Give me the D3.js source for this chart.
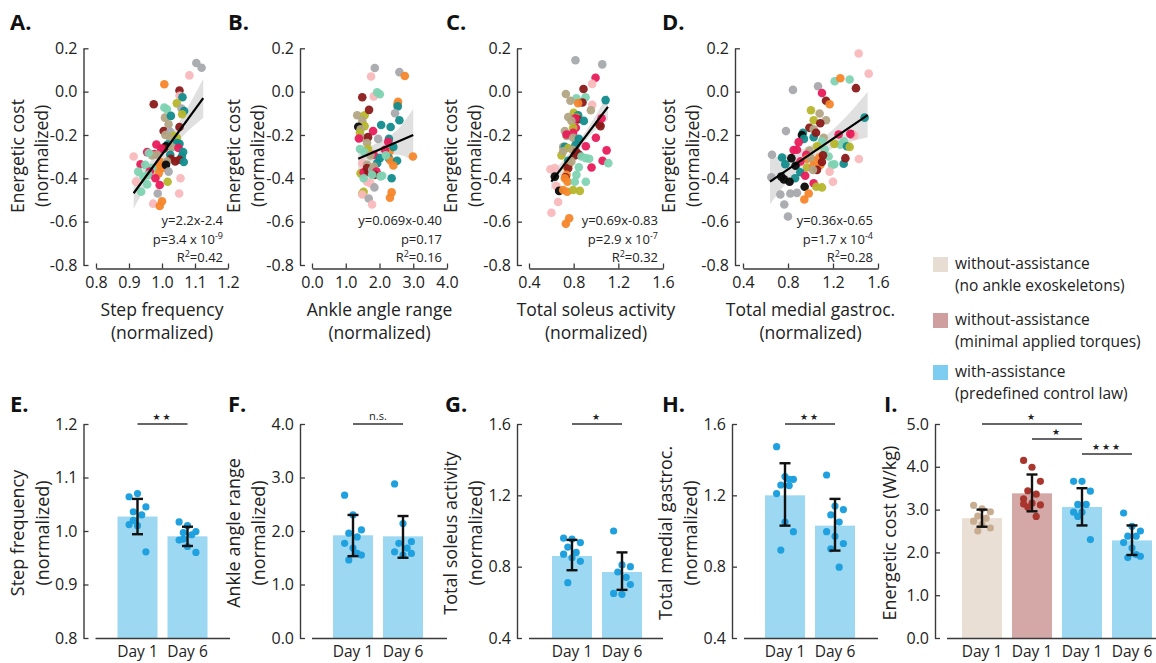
<!DOCTYPE html>
<html><head><meta charset="utf-8">
<script src="https://cdn.jsdelivr.net/npm/d3@7"></script>
<style>
body{margin:0;background:#fff;}
svg{font-family:"Open Sans","Noto Sans",sans-serif;}
</style></head><body>
<svg id="c" width="1156" height="663"></svg>
<script>
// ---------- DATA ----------
const subjectColors = {g:"#a8a9ad", p:"#f9b8bc", r:"#8b1a1a", o:"#f5862b", t:"#128c8c", m:"#80d3b2", y:"#b6b62c", k:"#b2a585", c:"#e81c5b", b:"#0a0a0a"};
const energyTicks = [0.2, 0.0, -0.2, -0.4, -0.6, -0.8];

// A: step frequency vs energetic cost
const ptsA = [[1.104,0.132,"g"],[1.12,0.11,"g"],[1.083,0.075,"p"],[1.007,0.034,"o"],[1.053,0.005,"r"],[1.053,-0.019,"p"],[1.062,-0.026,"t"],[0.975,-0.058,"r"],[1.045,-0.054,"y"],[1.007,-0.073,"m"],[1.015,-0.081,"m"],[1.059,-0.078,"g"],[1.067,-0.089,"t"],[1.009,-0.12,"k"],[1.027,-0.112,"t"],[1.061,-0.104,"y"],[1.02,-0.151,"k"],[1.053,-0.163,"r"],[1.005,-0.182,"r"],[1.025,-0.185,"g"],[1.01,-0.2,"k"],[1.035,-0.205,"y"],[1.045,-0.213,"y"],[1.025,-0.216,"k"],[1.045,-0.237,"t"],[1.053,-0.241,"t"],[0.983,-0.244,"c"],[1.017,-0.244,"t"],[1.012,-0.252,"b"],[1.005,-0.263,"r"],[1.03,-0.257,"k"],[1.05,-0.26,"c"],[0.997,-0.263,"c"],[1.064,-0.279,"t"],[0.955,-0.279,"c"],[0.977,-0.288,"c"],[0.97,-0.294,"k"],[0.985,-0.291,"k"],[1.025,-0.291,"t"],[0.914,-0.299,"p"],[1.06,-0.299,"t"],[1.027,-0.31,"r"],[1.053,-0.314,"r"],[1.04,-0.322,"r"],[0.935,-0.335,"c"],[0.995,-0.325,"o"],[1.005,-0.338,"o"],[0.987,-0.346,"o"],[1.0,-0.353,"o"],[0.949,-0.338,"m"],[0.97,-0.353,"m"],[1.015,-0.322,"k"],[1.012,-0.338,"b"],[0.963,-0.369,"c"],[0.928,-0.369,"m"],[0.99,-0.377,"o"],[1.02,-0.369,"g"],[0.944,-0.392,"m"],[0.959,-0.384,"m"],[0.98,-0.4,"c"],[1.056,-0.4,"p"],[0.921,-0.416,"p"],[1.017,-0.416,"y"],[0.955,-0.428,"m"],[0.993,-0.431,"c"],[0.937,-0.462,"m"],[0.987,-0.47,"g"],[1.052,-0.47,"p"],[0.973,-0.517,"p"],[1.0,-0.506,"o"],[0.993,-0.528,"o"],[0.96,-0.283,"m"],[1.066,-0.325,"t"]];
const fitA = [[0.914,-0.469],[1.125,-0.03]];
const bandA = [[0.914,-0.54,-0.40],[0.96,-0.415,-0.33],[1.0,-0.32,-0.26],[1.06,-0.21,-0.12],[1.125,-0.12,0.06]];

// B: ankle angle range
const ptsB = [[1.86,0.109,"g"],[2.59,0.09,"g"],[2.75,0.072,"o"],[1.75,0.07,"p"],[1.83,-0.022,"p"],[1.93,-0.003,"m"],[2.01,-0.012,"m"],[1.49,-0.026,"r"],[2.55,-0.047,"o"],[2.53,-0.058,"o"],[2.54,-0.068,"t"],[1.34,-0.109,"k"],[1.56,-0.109,"y"],[1.69,-0.084,"r"],[2.46,-0.1,"g"],[2.59,-0.132,"t"],[1.49,-0.135,"k"],[1.56,-0.159,"y"],[1.37,-0.162,"b"],[2.05,-0.154,"t"],[2.33,-0.163,"t"],[1.44,-0.174,"k"],[1.81,-0.182,"c"],[1.42,-0.19,"y"],[1.53,-0.213,"k"],[1.39,-0.216,"c"],[1.66,-0.21,"r"],[1.96,-0.218,"g"],[2.28,-0.218,"t"],[2.26,-0.232,"c"],[1.63,-0.237,"k"],[1.42,-0.265,"m"],[1.66,-0.265,"y"],[2.3,-0.275,"o"],[2.41,-0.255,"t"],[2.16,-0.268,"c"],[1.55,-0.279,"m"],[1.83,-0.291,"c"],[2.01,-0.307,"t"],[2.28,-0.307,"t"],[2.33,-0.319,"o"],[2.99,-0.299,"o"],[2.19,-0.294,"m"],[1.73,-0.294,"k"],[1.49,-0.33,"p"],[2.52,-0.319,"t"],[2.41,-0.341,"o"],[1.93,-0.33,"t"],[1.63,-0.338,"k"],[1.44,-0.377,"y"],[1.53,-0.372,"c"],[1.68,-0.372,"r"],[1.63,-0.353,"r"],[1.78,-0.361,"g"],[1.83,-0.346,"k"],[1.91,-0.369,"c"],[1.85,-0.384,"r"],[1.78,-0.384,"m"],[2.08,-0.388,"m"],[2.03,-0.391,"m"],[2.36,-0.4,"t"],[1.63,-0.416,"p"],[1.53,-0.4,"m"],[1.73,-0.423,"p"],[1.85,-0.442,"g"],[1.53,-0.462,"y"],[1.49,-0.47,"y"],[1.49,-0.475,"p"],[1.68,-0.493,"g"],[2.36,-0.465,"o"],[2.31,-0.49,"o"],[1.78,-0.521,"p"]];
const fitB = [[1.37,-0.31],[3.0,-0.20]];
const bandB = [[1.37,-0.37,-0.25],[1.7,-0.33,-0.25],[2.0,-0.305,-0.23],[2.5,-0.29,-0.18],[3.0,-0.32,-0.08]];

// C: total soleus activity
const ptsC = [[0.816,0.145,"g"],[1.056,0.126,"g"],[0.996,0.064,"c"],[0.966,0.036,"p"],[0.888,0.012,"r"],[0.73,-0.011,"k"],[0.825,-0.031,"m"],[0.906,-0.026,"m"],[0.879,-0.05,"r"],[0.84,-0.053,"o"],[0.966,-0.061,"p"],[1.086,-0.039,"t"],[0.771,-0.042,"k"],[0.954,-0.086,"k"],[0.801,-0.098,"y"],[0.84,-0.109,"t"],[0.751,-0.117,"k"],[0.825,-0.12,"y"],[0.834,-0.128,"r"],[0.816,-0.123,"c"],[0.78,-0.135,"k"],[0.891,-0.135,"t"],[0.819,-0.167,"c"],[0.795,-0.167,"y"],[1.029,-0.151,"r"],[1.041,-0.159,"r"],[1.05,-0.123,"c"],[0.721,-0.182,"k"],[0.795,-0.19,"c"],[0.736,-0.205,"k"],[0.736,-0.198,"c"],[0.795,-0.213,"k"],[0.999,-0.213,"c"],[0.846,-0.218,"t"],[0.706,-0.255,"k"],[0.721,-0.255,"t"],[0.751,-0.26,"y"],[0.816,-0.247,"t"],[0.789,-0.268,"k"],[0.909,-0.252,"c"],[0.691,-0.294,"y"],[0.825,-0.279,"r"],[0.849,-0.291,"r"],[0.81,-0.294,"r"],[0.87,-0.299,"m"],[0.909,-0.307,"m"],[0.706,-0.275,"k"],[1.095,-0.271,"c"],[0.939,-0.31,"m"],[1.059,-0.319,"c"],[1.11,-0.33,"m"],[0.751,-0.319,"t"],[0.76,-0.333,"o"],[0.736,-0.346,"o"],[0.751,-0.353,"r"],[0.78,-0.322,"k"],[0.846,-0.349,"m"],[0.96,-0.35,"c"],[0.592,-0.358,"p"],[0.631,-0.353,"p"],[0.825,-0.384,"m"],[0.736,-0.384,"o"],[0.727,-0.395,"r"],[0.631,-0.392,"b"],[0.721,-0.4,"o"],[0.646,-0.436,"p"],[0.745,-0.416,"o"],[0.909,-0.416,"m"],[0.81,-0.416,"m"],[0.67,-0.458,"b"],[0.706,-0.454,"o"],[0.742,-0.462,"o"],[0.795,-0.454,"y"],[0.855,-0.458,"y"],[0.661,-0.509,"p"],[0.601,-0.559,"p"],[0.76,-0.584,"o"],[0.73,-0.61,"o"]];
const fitC = [[0.6,-0.415],[1.107,-0.07]];
const bandC = [[0.6,-0.455,-0.375],[0.8,-0.30,-0.26],[0.95,-0.20,-0.15],[1.107,-0.13,-0.01]];

// D: total medial gastrocnemius
const ptsD = [[1.428,0.176,"p"],[1.517,0.083,"p"],[1.215,0.048,"m"],[1.265,0.062,"o"],[1.348,0.056,"m"],[1.404,0.016,"r"],[0.844,0.008,"g"],[1.067,0.025,"g"],[1.102,-0.006,"c"],[1.138,-0.042,"r"],[1.17,-0.058,"o"],[1.004,-0.086,"y"],[1.081,-0.101,"k"],[1.028,-0.132,"y"],[1.138,-0.132,"k"],[1.087,-0.146,"r"],[1.481,-0.12,"t"],[0.99,-0.167,"r"],[0.782,-0.182,"g"],[1.028,-0.174,"k"],[0.933,-0.19,"t"],[0.924,-0.2,"b"],[0.942,-0.218,"t"],[1.028,-0.21,"t"],[1.049,-0.19,"r"],[1.25,-0.198,"c"],[1.369,-0.198,"r"],[1.389,-0.202,"p"],[1.354,-0.195,"c"],[1.117,-0.213,"k"],[1.102,-0.229,"m"],[1.058,-0.252,"y"],[1.295,-0.229,"m"],[1.265,-0.245,"m"],[1.212,-0.241,"y"],[1.324,-0.252,"t"],[1.348,-0.255,"y"],[0.895,-0.233,"c"],[0.85,-0.269,"c"],[0.88,-0.268,"c"],[0.99,-0.272,"k"],[1.126,-0.268,"m"],[0.658,-0.291,"g"],[0.747,-0.304,"t"],[0.776,-0.335,"t"],[0.83,-0.307,"b"],[0.963,-0.291,"c"],[0.969,-0.31,"o"],[1.028,-0.319,"o"],[0.998,-0.304,"k"],[1.161,-0.299,"m"],[1.078,-0.304,"o"],[1.111,-0.294,"r"],[1.191,-0.338,"m"],[1.212,-0.335,"m"],[1.295,-0.333,"t"],[1.31,-0.307,"r"],[1.43,-0.311,"p"],[0.91,-0.322,"c"],[0.867,-0.342,"b"],[0.969,-0.35,"y"],[1.022,-0.346,"o"],[1.087,-0.338,"o"],[1.102,-0.325,"r"],[1.058,-0.361,"r"],[1.022,-0.361,"k"],[0.909,-0.372,"t"],[0.953,-0.388,"c"],[0.863,-0.4,"t"],[0.652,-0.395,"g"],[0.74,-0.392,"b"],[0.764,-0.405,"b"],[0.814,-0.416,"b"],[1.17,-0.369,"p"],[1.2,-0.416,"p"],[1.028,-0.423,"c"],[1.052,-0.439,"y"],[1.102,-0.442,"y"],[0.948,-0.439,"b"],[0.821,-0.47,"g"],[0.732,-0.475,"g"],[0.88,-0.467,"g"],[0.984,-0.47,"o"],[0.945,-0.498,"o"],[0.767,-0.521,"g"],[0.8,-0.576,"g"]];
const fitD = [[0.64,-0.415],[1.508,-0.108]];
const bandD = [[0.64,-0.52,-0.31],[0.85,-0.385,-0.28],[1.05,-0.305,-0.235],[1.25,-0.25,-0.15],[1.508,-0.21,0.0]];

// Bottom row
const dayCats = ["Day 1","Day 6"];
const stepMeans = [1.027, 0.99];
const stepErr = [[0.994,1.06],[0.972,1.008]];
const stepDots = [[1.064,1.07,1.045,1.036,1.03,1.012,1.01,0.961,1.02],[1.017,1.01,0.999,0.997,0.993,0.983,0.971,0.96,0.985]];
const ankleMeans = [1.92, 1.90];
const ankleErr = [[1.53,2.30],[1.50,2.28]];
const ankleDots = [[2.67,2.3,2.02,1.96,1.89,1.77,1.68,1.55,1.46,1.58],[2.88,2.14,1.8,1.77,1.68,1.61,1.55,1.58]];
const soleusMeans = [0.86, 0.77];
const soleusErr = [[0.78,0.95],[0.67,0.88]];
const soleusDots = [[0.96,0.955,0.935,0.91,0.88,0.87,0.85,0.83,0.71],[1.0,0.81,0.80,0.77,0.74,0.65,0.645,0.70]];
const gastroMeans = [1.2, 1.03];
const gastroErr = [[1.03,1.38],[0.89,1.18]];
const gastroDots = [[1.473,1.305,1.29,1.258,1.255,1.21,1.05,0.996,0.893,1.29],[1.314,1.14,1.12,1.09,1.05,0.996,0.97,0.93,0.90,0.797]];
const costCats = ["Day 1","Day 1","Day 1","Day 6"];
const costMeans = [2.8, 3.38, 3.06, 2.28];
const costErr = [[2.6,3.0],[2.96,3.82],[2.63,3.5],[1.94,2.63]];
const costDots = [[3.1,3.02,2.95,2.85,2.8,2.73,2.65,2.57,2.5],[4.15,3.99,3.66,3.44,3.36,3.25,3.15,3.11,3.06,2.84,3.13],[3.66,3.66,3.43,3.12,3.12,2.94,2.94,2.3,2.84],[2.92,2.61,2.5,2.38,2.38,2.23,2.1,1.91,1.88,1.95]];
const legendLabels = [["without-assistance","(no ankle exoskeletons)"],["without-assistance","(minimal applied torques)"],["with-assistance","(predefined control law)"]];

// ---------- DRAW ----------
const svg = d3.select("#c");
const AX = "#3a3a3a", TXT = "#222";
const fmt = d => d.toFixed(1);

function letter(t, x, y){
  svg.append("text").attr("x",x).attr("y",y).attr("font-size",22).attr("font-weight",700).attr("fill","#111").text(t);
}
function styleAxis(g, fs){
  g.select(".domain").attr("stroke",AX).attr("stroke-width",1.4);
  g.selectAll(".tick line").attr("stroke",AX).attr("stroke-width",1.3);
  g.selectAll(".tick text").attr("font-size",fs).attr("fill",TXT).attr("font-family","Open Sans");
}
function yTitle(lines, x0, cy, offs, fs){
  lines.forEach((l,i)=>{
    svg.append("text").attr("transform",`translate(${x0+offs[i]},${cy}) rotate(-90)`)
      .attr("text-anchor","middle").attr("font-size",fs).attr("fill",TXT).text(l);
  });
}

function scatterPanel(c){
  const x = d3.scaleLinear().domain(c.xdom).range(c.xr);
  const y = d3.scaleLinear().domain([-0.8,0.2]).range([265,48.3]);
  svg.append("path").datum(c.band)
    .attr("d", d3.area().x(d=>x(d[0])).y0(d=>y(d[1])).y1(d=>y(d[2])).curve(d3.curveMonotoneX))
    .attr("fill","#d6d6d6").attr("opacity",0.75);
  svg.append("g").selectAll("circle").data(c.pts).join("circle")
    .attr("cx",d=>x(d[0])).attr("cy",d=>y(d[1])).attr("r",4.3)
    .attr("fill",d=>subjectColors[d[2]]).attr("opacity",0.95);
  svg.append("path").datum(c.fit).attr("d", d3.line().x(d=>x(d[0])).y(d=>y(d[1])))
    .attr("stroke","#000").attr("stroke-width",2.2).attr("fill","none");
  const ya = svg.append("g").attr("transform",`translate(${c.ax},0)`)
    .call(d3.axisLeft(y).tickValues(energyTicks).tickSize(-5).tickSizeOuter(0).tickPadding(6).tickFormat(fmt));
  styleAxis(ya, 16);
  const xa = svg.append("g").attr("transform","translate(0,268.5)")
    .call(d3.axisBottom(x).tickValues(c.xticks).tickSize(-5).tickSizeOuter(0).tickPadding(8).tickFormat(fmt));
  styleAxis(xa, 16);
  const cx = (c.xr[0]+c.xr[1])/2;
  svg.append("text").attr("x",cx).attr("y",316).attr("text-anchor","middle").attr("font-size",17.5).attr("fill",TXT).text(c.xtitle);
  svg.append("text").attr("x",cx).attr("y",339).attr("text-anchor","middle").attr("font-size",17.5).attr("fill",TXT).text("(normalized)");
  yTitle(["Energetic cost","(normalized)"], c.ax, 156, [-60,-36], 17.5);
  const rx = c.xr[1]-5;
  svg.append("text").attr("x",rx).attr("y",225).attr("text-anchor","end").attr("font-size",13).attr("fill",TXT).text(c.eq);
  const t2 = svg.append("text").attr("x",rx).attr("y",243.5).attr("text-anchor","end").attr("font-size",13).attr("fill",TXT);
  t2.append("tspan").text(c.p[0]);
  if(c.p[1]){ t2.append("tspan").attr("font-size",9).attr("dy",-5).text(c.p[1]); }
  const t3 = svg.append("text").attr("x",rx).attr("y",262).attr("text-anchor","end").attr("font-size",13).attr("fill",TXT);
  t3.append("tspan").text("R");
  t3.append("tspan").attr("font-size",9).attr("dy",-5).text("2");
  t3.append("tspan").attr("dy",5).text("="+c.r2);
  letter(c.letter, c.lx, 30);
}

scatterPanel({ax:83.5, xr:[96,228], xdom:[0.8,1.2], xticks:[0.8,0.9,1.0,1.1,1.2], pts:ptsA, fit:fitA, band:bandA,
  xtitle:"Step frequency", eq:"y=2.2x-2.4", p:["p=3.4 x 10","-9"], r2:"0.42", letter:"A.", lx:10});
scatterPanel({ax:300, xr:[312,447], xdom:[0,4], xticks:[0,1,2,3,4], pts:ptsB, fit:fitB, band:bandB,
  xtitle:"Ankle angle range", eq:"y=0.069x-0.40", p:["p=0.17",null], r2:"0.16", letter:"B.", lx:228});
scatterPanel({ax:517, xr:[529,663], xdom:[0.4,1.6], xticks:[0.4,0.8,1.2,1.6], pts:ptsC, fit:fitC, band:bandC,
  xtitle:"Total soleus activity", eq:"y=0.69x-0.83", p:["p=2.9 x 10","-7"], r2:"0.32", letter:"C.", lx:446});
scatterPanel({ax:735, xr:[743,878], xdom:[0.4,1.6], xticks:[0.4,0.8,1.2,1.6], pts:ptsD, fit:fitD, band:bandD,
  xtitle:"Total medial gastroc.", eq:"y=0.36x-0.65", p:["p=1.7 x 10","-4"], r2:"0.28", letter:"D.", lx:662});

const BLUE_BAR="#9cd8f2", BLUE_DOT="#1fa1df";
function barPanel(c){
  const n = c.cats.length;
  const y = d3.scaleLinear().domain(c.ydom).range([638,424]);
  const start = c.ax + c.c0 - 25;
  const x = d3.scaleBand().domain(d3.range(n)).range([start, start+50*n]).paddingInner(0.2).paddingOuter(0.1);
  svg.append("g").selectAll("rect").data(c.means).join("rect")
    .attr("x",(d,i)=>x(i)).attr("width",x.bandwidth())
    .attr("y",d=>y(d)).attr("height",d=>y(c.ydom[0])-y(d))
    .attr("fill",(d,i)=>c.barColors[i]);
  c.dots.forEach((arr,i)=>{
    const cxm = x(i)+x.bandwidth()/2;
    svg.append("g").selectAll("circle").data(arr).join("circle")
      .attr("cx",(d,j)=>cxm + (((j*7)%5)-2)*4.2)
      .attr("cy",d=>y(d)).attr("r",3.6).attr("fill",c.dotColors[i]);
  });
  c.errs.forEach((e,i)=>{
    const cxm = x(i)+x.bandwidth()/2;
    const g = svg.append("g").attr("stroke","#111").attr("stroke-width",2.4);
    g.append("line").attr("x1",cxm).attr("x2",cxm).attr("y1",y(e[0])).attr("y2",y(e[1]));
    g.append("line").attr("x1",cxm-5.5).attr("x2",cxm+5.5).attr("y1",y(e[0])).attr("y2",y(e[0]));
    g.append("line").attr("x1",cxm-5.5).attr("x2",cxm+5.5).attr("y1",y(e[1])).attr("y2",y(e[1]));
  });
  const ya = svg.append("g").attr("transform",`translate(${c.ax},0)`)
    .call(d3.axisLeft(y).tickValues(c.yticks).tickSize(-5).tickSizeOuter(0).tickPadding(6).tickFormat(fmt));
  styleAxis(ya, 16);
  const xa = svg.append("g").attr("transform","translate(0,638.5)")
    .call(d3.axisBottom(x).tickSize(0).tickPadding(7).tickFormat(i=>c.cats[i]));
  xa.select(".domain").attr("d",`M${c.ax+12},0H${c.xEnd}`);
  styleAxis(xa, 15.5);
  c.sig.forEach(s=>{
    const x1 = x(s[0])+x.bandwidth()/2, x2 = x(s[1])+x.bandwidth()/2, yy = y(s[2]);
    svg.append("line").attr("x1",x1).attr("x2",x2).attr("y1",yy).attr("y2",yy).attr("stroke","#333").attr("stroke-width",1.5);
    const isStar = s[3] !== "n.s.";
    svg.append("text").attr("x",(x1+x2)/2).attr("y",yy-4).attr("text-anchor","middle")
      .attr("font-size",isStar?9:11).attr("letter-spacing",isStar?2:0).attr("fill","#222")
      .attr("font-family",isStar?"DejaVu Sans":"Open Sans").text(s[3]);
  });
  if(c.ytitle.length===2) yTitle(c.ytitle, c.ax, 533, [-60,-35], 18);
  else yTitle(c.ytitle, c.ax, 533, [-39], 18);
  letter(c.letter, c.lx, 412);
}

barPanel({ax:83.5, c0:54, cats:dayCats, means:stepMeans, errs:stepErr, dots:stepDots, ydom:[0.8,1.2], yticks:[0.8,0.9,1.0,1.1,1.2],
  barColors:[BLUE_BAR,BLUE_BAR], dotColors:[BLUE_DOT,BLUE_DOT], xEnd:230, sig:[[0,1,1.2,"★★"]], ytitle:["Step frequency","(normalized)"], letter:"E.", lx:10});
barPanel({ax:300, c0:53, cats:dayCats, means:ankleMeans, errs:ankleErr, dots:ankleDots, ydom:[0,4], yticks:[0,1,2,3,4],
  barColors:[BLUE_BAR,BLUE_BAR], dotColors:[BLUE_DOT,BLUE_DOT], xEnd:447, sig:[[0,1,4.0,"n.s."]], ytitle:["Ankle angle range","(normalized)"], letter:"F.", lx:228});
barPanel({ax:517, c0:55, cats:dayCats, means:soleusMeans, errs:soleusErr, dots:soleusDots, ydom:[0.4,1.6], yticks:[0.4,0.8,1.2,1.6],
  barColors:[BLUE_BAR,BLUE_BAR], dotColors:[BLUE_DOT,BLUE_DOT], xEnd:663, sig:[[0,1,1.6,"★"]], ytitle:["Total soleus activity","(normalized)"], letter:"G.", lx:445});
barPanel({ax:732, c0:53, cats:dayCats, means:gastroMeans, errs:gastroErr, dots:gastroDots, ydom:[0.4,1.6], yticks:[0.4,0.8,1.2,1.6],
  barColors:[BLUE_BAR,BLUE_BAR], dotColors:[BLUE_DOT,BLUE_DOT], xEnd:878, sig:[[0,1,1.6,"★★"]], ytitle:["Total medial gastroc.","(normalized)"], letter:"H.", lx:662});
barPanel({ax:935, c0:47, cats:costCats, means:costMeans, errs:costErr, dots:costDots, ydom:[0,5], yticks:[0,1,2,3,4,5],
  barColors:["#e9dfd5","#d5a8a8",BLUE_BAR,BLUE_BAR], dotColors:["#c9ad90","#a8362e",BLUE_DOT,BLUE_DOT], xEnd:1156,
  sig:[[0,2,5.0,"★"],[1,2,4.65,"★"],[2,3,4.3,"★★★"]], ytitle:["Energetic cost (W/kg)"], letter:"I.", lx:884});

// legend
const legendColors = ["#e8ddd2","#cf9f9f","#7ccdef"];
const legY = [257, 313, 365];
legendLabels.forEach((l,i)=>{
  svg.append("rect").attr("x",933).attr("y",legY[i]).attr("width",15).attr("height",15).attr("fill",legendColors[i]);
  svg.append("text").attr("x",955).attr("y",legY[i]+12).attr("font-size",15.5).attr("fill",TXT).text(l[0]);
  svg.append("text").attr("x",955).attr("y",legY[i]+34).attr("font-size",15.5).attr("fill",TXT).text(l[1]);
});
</script>
</body></html>
